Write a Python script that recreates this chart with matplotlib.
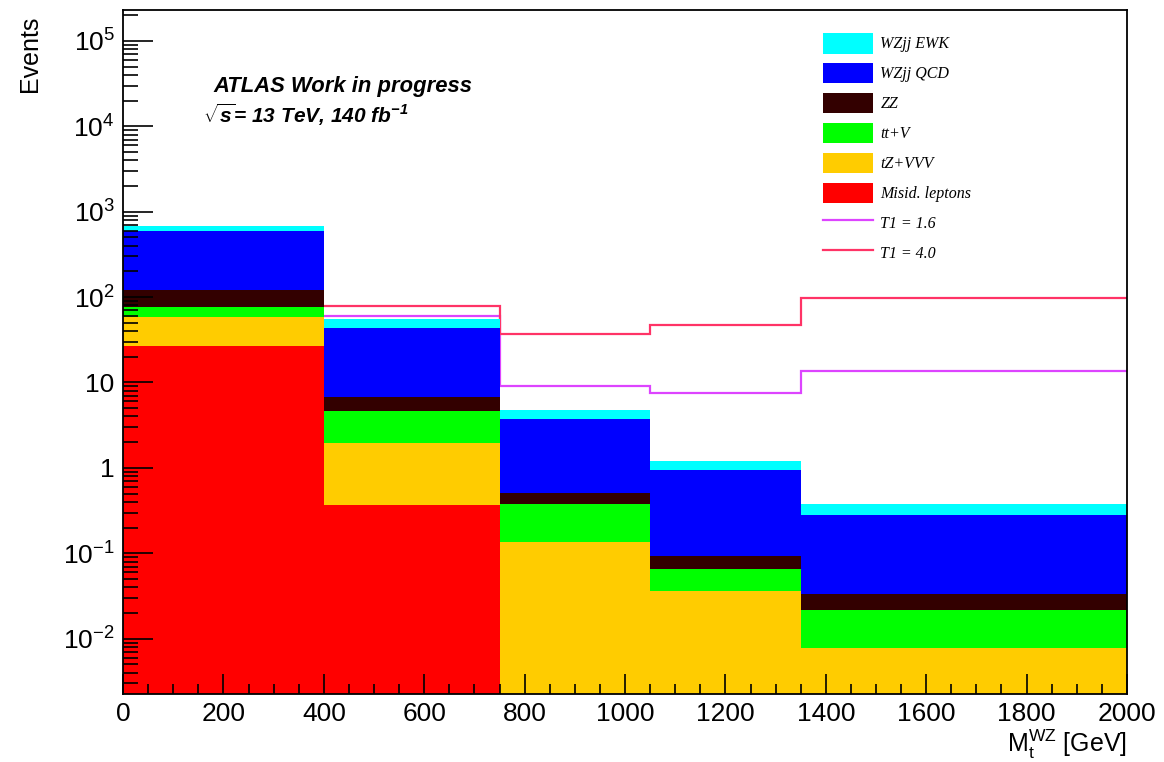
import numpy as np
import matplotlib
matplotlib.use('Agg')
import matplotlib.pyplot as plt
from matplotlib.patches import Patch
from matplotlib.lines import Line2D
from matplotlib.ticker import FixedLocator, FixedFormatter, MultipleLocator

plt.rcParams['font.family'] = ['Liberation Sans', 'DejaVu Sans']
plt.rcParams['mathtext.fontset'] = 'custom'
plt.rcParams['mathtext.rm'] = 'Liberation Sans'
plt.rcParams['mathtext.it'] = 'Liberation Sans:italic'
plt.rcParams['mathtext.bf'] = 'Liberation Sans:bold:italic'

# bin edges in M_t^WZ [GeV]
edges = [0, 400, 750, 1050, 1350, 2000]

# background yields per bin (stacked bottom -> top)
misid = [26.5, 0.367, 0, 0, 0]
tz_vvv = [31.5, 1.60, 0.134, 0.0364, 0.00778]
ttv = [18.0, 2.63, 0.24, 0.0285, 0.014]
zz = [45.0, 2.2, 0.134, 0.029, 0.0118]
wz_qcd = [476.0, 36.8, 3.26, 0.861, 0.248]
wz_ewk = [87.0, 12.4, 1.03, 0.255, 0.092]

# signal lines
t1_16 = [60.3, 60.3, 9.2, 7.6, 13.8]
t1_40 = [79.0, 79.0, 37.4, 46.9, 98.0]

stack = [misid, tz_vvv, ttv, zz, wz_qcd, wz_ewk]
names = ['Misid. leptons', 'tZ+VVV', 'tt+V', 'ZZ', 'WZjj QCD', 'WZjj EWK']
colors = ['#ff0000', '#ffcc00', '#00ff00', '#330000', '#0000ff', '#00ffff']

fig = plt.figure(figsize=(11.64, 7.62), dpi=100)
ax = fig.add_axes([0.1057, 0.0892, 0.8625, 0.8977])

# signal lines first so the stack hides them where it's higher
ax.stairs(t1_16, edges, baseline=None, color='#dd44ff', lw=1.6, zorder=1)
ax.stairs(t1_40, edges, baseline=None, color='#ff3366', lw=1.6, zorder=1)

bottom = np.zeros(len(misid))
for vals, c in zip(stack, colors):
    top = bottom + np.array(vals)
    ax.stairs(top, edges, baseline=bottom.copy(), fill=True, color=c,
              lw=0, zorder=2)
    bottom = top

ax.set_yscale('log')
ax.set_xlim(0, 2000)
ax.set_ylim(0.00225, 2.3e5)

yt = [1e-2, 1e-1, 1, 10, 1e2, 1e3, 1e4, 1e5]
ytl = ['$10^{-2}$', '$10^{-1}$', '1', '10', '$10^{2}$', '$10^{3}$', '$10^{4}$', '$10^{5}$']
ax.yaxis.set_major_locator(FixedLocator(yt))
ax.yaxis.set_major_formatter(FixedFormatter(ytl))
ax.yaxis.set_minor_locator(matplotlib.ticker.LogLocator(base=10, subs=np.arange(2, 10)))
ax.yaxis.set_minor_formatter(matplotlib.ticker.NullFormatter())
ax.xaxis.set_major_locator(MultipleLocator(200))
ax.xaxis.set_minor_locator(MultipleLocator(50))

ax.tick_params(axis='y', which='major', direction='in', length=21.6, width=1.2,
               labelsize=19, pad=6, right=False)
ax.tick_params(axis='y', which='minor', direction='in', length=10.8, width=1.2, right=False)
ax.tick_params(axis='x', which='major', direction='in', length=14.4, width=1.2,
               labelsize=19, pad=6, top=False)
ax.tick_params(axis='x', which='minor', direction='in', length=7.2, width=1.2, top=False)
for s in ax.spines.values():
    s.set_linewidth(1.3)
    s.set_zorder(3)
ax.set_axisbelow(False)

fig.text(0.026, 0.98, 'Events', rotation=90, ha='center', va='top', fontsize=18)
fig.text(0.968, 1 - 752 / 762, r'$\mathrm{M}_{\mathrm{t}}^{\mathrm{WZ}}$ [GeV]', ha='right',
         va='baseline', fontsize=18)

fig.text(0.183, 0.879, 'ATLAS Work in progress', fontsize=15.8, fontweight='bold',
         fontstyle='italic', ha='left', va='baseline')
fig.text(0.174, 0.839, r'$\sqrt{\mathbf{s}}$= 13 TeV, 140 fb$^{\mathbf{-1}}$', fontsize=15,
         fontweight='bold', fontstyle='italic', ha='left', va='baseline')

handles = [Patch(facecolor=c, edgecolor='none') for c in colors][::-1]
labels = names[::-1]
handles += [Line2D([], [], color='#dd44ff', lw=1.6), Line2D([], [], color='#ff3366', lw=1.6)]
labels += ['T1 = 1.6', 'T1 = 4.0']
fig.legend(handles, labels, loc='upper left', bbox_to_anchor=(823 / 1164, 1 - 33 / 762),
           frameon=False, borderpad=0, borderaxespad=0, handlelength=3.1, handleheight=1.6,
           labelspacing=0.59, handletextpad=0.5,
           prop={'family': 'Liberation Serif', 'style': 'italic', 'size': 11.5})

fig.savefig('out.png', dpi=100)
